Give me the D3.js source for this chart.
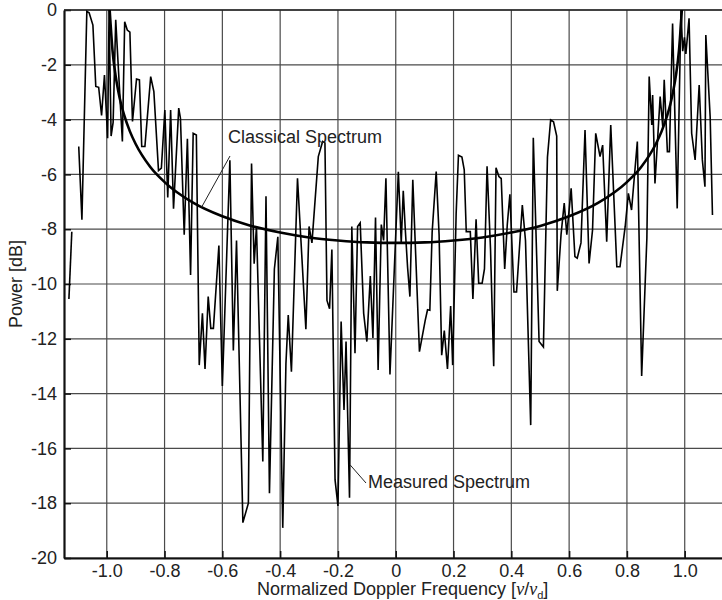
<!DOCTYPE html>
<html>
<head>
<meta charset="utf-8">
<script src="https://cdn.jsdelivr.net/npm/d3@7"></script>
<style>
  body { margin: 0; background: #fff; }
  text { font-family: "Liberation Sans", Arial, sans-serif; }
</style>
</head>
<body>
<div id="wrapper"></div>
<script>
// tick values
const xTicks = [-1.0, -0.8, -0.6, -0.4, -0.2, 0, 0.2, 0.4, 0.6, 0.8, 1.0]
const yTicks = [0, -2, -4, -6, -8, -10, -12, -14, -16, -18, -20]

// measured spectrum, short first piece (left edge)
const measuredStartFreq = [-1.131, -1.121]
const measuredStartPower = [-10.55, -8.09]

// measured spectrum, main trace
const measuredFreq = [
  -1.097, -1.086, -1.069, -1.061, -1.048, -1.038, -1.028, -1.018, -1.008, -0.997,
  -0.992, -0.985, -0.978, -0.969, -0.946, -0.938, -0.929, -0.920, -0.911, -0.897,
  -0.887, -0.879, -0.868, -0.848, -0.837, -0.821, -0.811, -0.799, -0.789, -0.779,
  -0.769, -0.751, -0.745, -0.732, -0.721, -0.710, -0.701, -0.690, -0.680, -0.669,
  -0.660, -0.649, -0.640, -0.631, -0.612, -0.600, -0.574, -0.562, -0.551, -0.529,
  -0.510, -0.499, -0.490, -0.482, -0.460, -0.449, -0.437, -0.420, -0.408, -0.391,
  -0.380, -0.372, -0.361, -0.340, -0.311, -0.300, -0.290, -0.268, -0.253, -0.245,
  -0.238, -0.229, -0.221, -0.210, -0.200, -0.189, -0.179, -0.172, -0.160, -0.152,
  -0.141, -0.132, -0.123, -0.111, -0.100, -0.088, -0.079, -0.070, -0.061, -0.050,
  -0.042, -0.034, -0.020, 0.009, 0.019, 0.026, 0.033, 0.041, 0.049, 0.059,
  0.082, 0.102, 0.110, 0.118, 0.126, 0.140, 0.150, 0.159, 0.168, 0.179,
  0.190, 0.197, 0.209, 0.217, 0.229, 0.237, 0.244, 0.258, 0.267, 0.278,
  0.287, 0.299, 0.307, 0.316, 0.328, 0.339, 0.347, 0.357, 0.365, 0.377,
  0.386, 0.395, 0.409, 0.418, 0.438, 0.449, 0.467, 0.476, 0.496, 0.511,
  0.525, 0.536, 0.546, 0.557, 0.559, 0.572, 0.583, 0.592, 0.607, 0.620,
  0.628, 0.641, 0.655, 0.669, 0.681, 0.692, 0.707, 0.716, 0.730, 0.744,
  0.765, 0.776, 0.794, 0.805, 0.816, 0.836, 0.851, 0.869, 0.877, 0.886,
  0.889, 0.897, 0.915, 0.924, 0.929, 0.940, 0.947, 0.958, 0.974, 0.987,
  0.993, 0.999, 1.004, 1.015, 1.024, 1.036, 1.050, 1.061, 1.070, 1.073,
  1.088, 1.096
]
const measuredPower = [
  -4.98, -7.65, -0.05, -0.1, -0.55, -2.79, -2.82, -3.85, -2.37, -4.68,
  0.0, -4.6, -4.1, -0.36, -4.8, -0.43, -0.73, -0.81, -4.07, -2.52,
  -2.55, -4.98, -4.98, -2.43, -2.98, -5.86, -5.77, -3.65, -6.84, -3.65,
  -7.25, -3.58, -3.95, -8.2, -4.7, -9.67, -4.5, -4.56, -12.96, -11.07,
  -13.1, -10.46, -11.62, -11.62, -8.6, -13.72, -5.48, -12.43, -8.41, -18.71,
  -18.0, -5.6, -9.26, -7.9, -16.48, -6.8, -17.64, -9.45, -8.28, -18.9,
  -12.9, -11.13, -13.2, -6.14, -11.65, -7.9, -8.5, -5.35, -4.8, -4.85,
  -10.6, -10.9, -8.74, -17.15, -18.1, -11.37, -14.6, -12.1, -17.8, -7.9,
  -12.53, -7.9, -7.77, -11.07, -12.1, -9.71, -11.97, -7.57, -13.14, -7.83,
  -8.41, -6.14, -13.3, -5.9, -8.5, -6.6, -8.0, -9.4, -10.46, -6.2,
  -12.47, -11.33, -10.94, -10.96, -8.1, -5.9, -8.2, -12.6, -11.7, -13.1,
  -10.8, -12.96, -7.44, -5.3, -5.37, -5.83, -8.09, -8.09, -10.55, -7.64,
  -9.97, -9.97, -9.45, -5.7, -8.74, -13.0, -5.76, -6.08, -6.15, -9.45,
  -7.83, -6.73, -10.29, -10.29, -7.12, -8.41, -15.15, -4.66, -12.1, -12.3,
  -5.37, -4.01, -4.08, -4.6, -10.25, -8.2, -7.05, -8.2, -6.51, -9.0,
  -9.06, -8.5, -4.38, -9.25, -8.03, -4.5, -5.35, -4.93, -8.46, -4.2,
  -9.37, -9.37, -7.9, -6.69, -7.3, -4.8, -13.36, -8.33, -2.43, -4.2,
  -3.1, -6.33, -3.16, -4.26, -2.55, -5.17, -5.17, -0.49, -7.24, 0.0,
  -1.5, -1.0, -1.6, -0.3, -4.5, -5.47, -2.74, -5.47, -6.45, -0.91,
  -3.89, -7.48
]

// classical spectrum
const classicalFreq = [
  -0.99, -0.98, -0.97, -0.96, -0.95, -0.94, -0.92, -0.90, -0.85, -0.80,
  -0.70, -0.60, -0.50, -0.40, -0.30, -0.20, -0.10, 0.0, 0.10, 0.20,
  0.30, 0.40, 0.50, 0.60, 0.70, 0.80, 0.85, 0.90, 0.92, 0.94,
  0.95, 0.96, 0.97, 0.98, 0.99
]
const classicalPower = [
  0.0, -1.49, -2.36, -2.97, -3.45, -3.83, -4.43, -4.89, -5.72, -6.28,
  -7.04, -7.53, -7.88, -8.12, -8.3, -8.41, -8.48, -8.5, -8.48, -8.41,
  -8.3, -8.12, -7.88, -7.53, -7.04, -6.28, -5.72, -4.89, -4.43, -3.83,
  -3.45, -2.97, -2.36, -1.49, 0.0
]

drawChart()

function drawChart() {
  const dimensions = {width: 722, height: 600, left: 64, right: 722, top: 10, bottom: 558}

  const svg = d3.select("#wrapper")
    .append("svg")
    .attr("width", dimensions.width)
    .attr("height", dimensions.height)

  const xScale = d3.scaleLinear()
    .domain([-1.148, 1.129])
    .range([dimensions.left, dimensions.right])
  const yScale = d3.scaleLinear()
    .domain([-20, 0])
    .range([dimensions.bottom, dimensions.top])

  svg.append("clipPath").attr("id", "plotClip")
    .append("rect")
    .attr("x", dimensions.left).attr("y", dimensions.top - 2)
    .attr("width", dimensions.right - dimensions.left)
    .attr("height", dimensions.bottom - dimensions.top + 2)

  // grid
  const grid = svg.append("g")
  grid.selectAll(".vgrid").data(xTicks).join("line")
    .attr("x1", d => xScale(d)).attr("x2", d => xScale(d))
    .attr("y1", dimensions.top).attr("y2", dimensions.bottom)
    .attr("stroke", "#4a4a4a").attr("stroke-width", 1.2)
  grid.selectAll(".hgrid").data(yTicks).join("line")
    .attr("x1", dimensions.left).attr("x2", dimensions.right)
    .attr("y1", d => yScale(d)).attr("y2", d => yScale(d))
    .attr("stroke", "#4a4a4a").attr("stroke-width", 1.2)

  // axes with inward ticks, plain hyphen for minus
  const hyphen = s => s.replace("\u2212", "-")
  const xAxis = d3.axisBottom(xScale)
    .tickValues(xTicks)
    .tickSizeInner(-7).tickSizeOuter(0)
    .tickPadding(6)
    .tickFormat(d => d === 0 ? "0" : hyphen(d3.format(".1f")(d)))
  const yAxis = d3.axisLeft(yScale)
    .tickValues(yTicks)
    .tickSizeInner(-7).tickSizeOuter(0)
    .tickPadding(7)
    .tickFormat(d => hyphen(d3.format("d")(d)))

  const gx = svg.append("g")
    .attr("transform", `translate(0,${dimensions.bottom})`)
    .call(xAxis)
  const gy = svg.append("g")
    .attr("transform", `translate(${dimensions.left},0)`)
    .call(yAxis)
  for (const g of [gx, gy]) {
    g.select(".domain").attr("stroke", "#111").attr("stroke-width", 2.2)
    g.selectAll(".tick line").attr("stroke", "#111").attr("stroke-width", 1.5)
    g.selectAll(".tick text")
      .attr("font-family", "Liberation Sans, Arial, sans-serif")
      .attr("font-size", 18).attr("fill", "#222")
  }

  // top border
  svg.append("line")
    .attr("x1", dimensions.left).attr("x2", dimensions.right)
    .attr("y1", dimensions.top).attr("y2", dimensions.top)
    .attr("stroke", "#222").attr("stroke-width", 1.5)

  // lines
  const line = d3.line()
    .x(d => xScale(d[0]))
    .y(d => yScale(d[1]))
  const plot = svg.append("g").attr("clip-path", "url(#plotClip)")

  plot.append("path")
    .attr("d", line(d3.zip(measuredStartFreq, measuredStartPower)))
    .attr("fill", "none").attr("stroke", "#000").attr("stroke-width", 1.6)
  plot.append("path")
    .attr("d", line(d3.zip(measuredFreq, measuredPower)))
    .attr("fill", "none").attr("stroke", "#000").attr("stroke-width", 1.6)

  const curve = d3.line()
    .x(d => xScale(d[0]))
    .y(d => yScale(d[1]))
    .curve(d3.curveMonotoneX)
  plot.append("path")
    .attr("d", curve(d3.zip(classicalFreq, classicalPower)))
    .attr("fill", "none").attr("stroke", "#000").attr("stroke-width", 2.6)

  // annotations
  svg.append("line")
    .attr("x1", 230).attr("y1", 156).attr("x2", xScale(-0.672)).attr("y2", yScale(-7.2))
    .attr("stroke", "#222").attr("stroke-width", 1)
  svg.append("text")
    .attr("x", 228).attr("y", 143)
    .attr("font-size", 18).attr("fill", "#222")
    .text("Classical Spectrum")

  svg.append("line")
    .attr("x1", xScale(-0.158)).attr("y1", yScale(-16.6)).attr("x2", 366).attr("y2", 483)
    .attr("stroke", "#222").attr("stroke-width", 1)
  svg.append("text")
    .attr("x", 368).attr("y", 488)
    .attr("font-size", 18).attr("fill", "#222")
    .text("Measured Spectrum")

  // axis titles
  svg.append("text")
    .attr("transform", `translate(22,${(dimensions.top + dimensions.bottom) / 2}) rotate(-90)`)
    .attr("text-anchor", "middle")
    .attr("font-size", 18).attr("fill", "#222")
    .text("Power [dB]")

  const xt = svg.append("text")
    .attr("x", 257).attr("y", 595)
    .attr("font-size", 18).attr("fill", "#222")
  xt.append("tspan").text("Normalized Doppler Frequency [")
  xt.append("tspan").attr("font-family", "Liberation Serif, Times New Roman, serif")
    .attr("font-style", "italic").text("ν")
  xt.append("tspan").text("/")
  xt.append("tspan").attr("font-family", "Liberation Serif, Times New Roman, serif")
    .attr("font-style", "italic").text("ν")
  xt.append("tspan").attr("font-size", 11).attr("dy", 4).text("d")
  xt.append("tspan").attr("dy", -4).text("]")
}
</script>
</body>
</html>
